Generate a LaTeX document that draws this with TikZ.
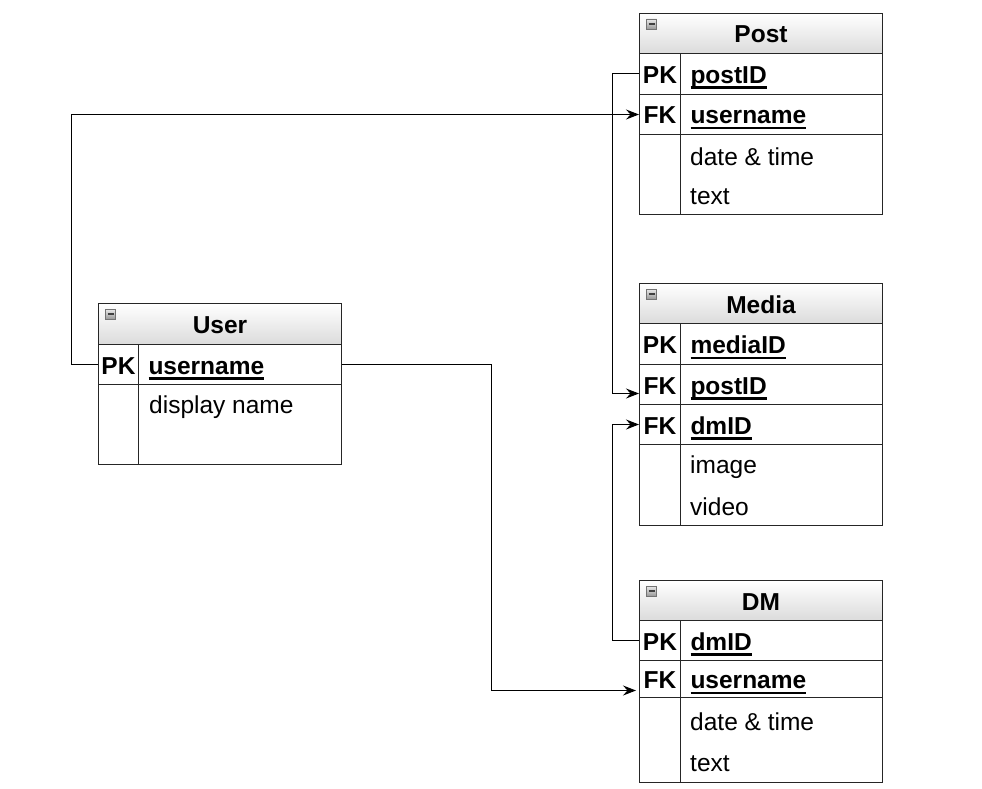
\documentclass[tikz,border=0pt]{standalone}
\usepackage{fontspec}
\setmainfont{Liberation Sans}
\usetikzlibrary{arrows.meta}

\newcommand{\ulfield}[1]{\setbox0\hbox{#1}\rlap{\rule[-5.5pt]{\wd0}{2.5pt}}\box0}

\tikzset{
  cell/.style={draw=black!85, line width=1pt, inner sep=0pt, anchor=north west,
    text height=22pt, text depth=3pt},
  tablehead/.style={cell, top color=white, bottom color=black!14, font=\bfseries,
    minimum width=243pt, minimum height=40pt},
  keycell/.style={cell, minimum width=41pt, minimum height=40pt, font=\bfseries},
  fieldcell/.style={cell, minimum width=202pt, minimum height=40pt,
    text width=182pt, align=left, font=\bfseries},
  bodycell/.style={cell, minimum width=202pt},
  entry/.style={anchor=west, inner sep=0pt, text height=22pt, text depth=3pt},
  foldbox/.style={draw=black!55, line width=0.8pt, top color=black!8, bottom color=black!40,
    minimum size=10pt, inner sep=0pt,
    path picture={\draw[black!75, line width=1.2pt]
      ([xshift=2pt]path picture bounding box.west) -- ([xshift=-2pt]path picture bounding box.east);}},
  fk/.style={draw=black, line width=1pt, -{Stealth[length=13pt,width=10pt,inset=4.5pt]}}
}

\begin{document}
\begin{tikzpicture}[x=1pt, y=-1pt]

  \fontsize{24.5}{28}\selectfont

  \useasboundingbox (0,0) rectangle (982,789);

  %% Post
  \node[tablehead] (post) at (639,13) {Post};
  \node[foldbox] (postFold) at (651.5,24) {};
  \node[keycell, minimum height=41pt] (postPKk) at (639,53) {PK};
  \node[fieldcell, minimum height=41pt] (postPKf) at (680,53) {\ulfield{postID}};
  \node[keycell] (postFKk) at (639,94) {FK};
  \node[fieldcell] (postFKf) at (680,94) {\ulfield{username}};
  \node[cell, minimum width=41pt, minimum height=80pt] (postBodyk) at (639,134) {};
  \node[bodycell, minimum height=80pt] (postBodyf) at (680,134) {};
  \node[entry] (postDate) at (690,155.5) {date \& time};
  \node[entry] (postText) at (690,194.5) {text};

  %% Media
  \node[tablehead] (media) at (639,283) {Media};
  \node[foldbox] (mediaFold) at (651.5,294) {};
  \node[keycell, minimum height=41pt] (mediaPKk) at (639,323) {PK};
  \node[fieldcell, minimum height=41pt] (mediaPKf) at (680,323) {\ulfield{mediaID}};
  \node[keycell] (mediaFKak) at (639,364) {FK};
  \node[fieldcell] (mediaFKaf) at (680,364) {\ulfield{postID}};
  \node[keycell] (mediaFKbk) at (639,404) {FK};
  \node[fieldcell] (mediaFKbf) at (680,404) {\ulfield{dmID}};
  \node[cell, minimum width=41pt, minimum height=81pt] (mediaBodyk) at (639,444) {};
  \node[bodycell, minimum height=81pt] (mediaBodyf) at (680,444) {};
  \node[entry] (mediaImage) at (690,464) {image};
  \node[entry] (mediaVideo) at (690,505.5) {video};

  %% DM
  \node[tablehead] (dm) at (639,580) {DM};
  \node[foldbox] (dmFold) at (651.5,591) {};
  \node[keycell] (dmPKk) at (639,620) {PK};
  \node[fieldcell] (dmPKf) at (680,620) {\ulfield{dmID}};
  \node[keycell, minimum height=37pt] (dmFKk) at (639,660) {FK};
  \node[fieldcell, minimum height=37pt] (dmFKf) at (680,660) {\ulfield{username}};
  \node[cell, minimum width=41pt, minimum height=85pt] (dmBodyk) at (639,697) {};
  \node[bodycell, minimum height=85pt] (dmBodyf) at (680,697) {};
  \node[entry] (dmDate) at (690,720.5) {date \& time};
  \node[entry] (dmText) at (690,762) {text};

  %% User
  \node[tablehead, minimum height=41pt] (user) at (98,303) {User};
  \node[foldbox] (userFold) at (110.5,314) {};
  \node[keycell, minimum width=40pt] (userPKk) at (98,344) {PK};
  \node[fieldcell, minimum width=203pt, text width=183pt] (userPKf) at (138,344) {\ulfield{username}};
  \node[cell, minimum width=40pt, minimum height=80pt] (userBodyk) at (98,384) {};
  \node[bodycell, minimum width=203pt, minimum height=80pt] (userBodyf) at (138,384) {};
  \node[entry] (userName) at (149,404) {display name};

  %% keys
  \draw[fk] (userPKk.west) -- ++(-27,0) |- (postFKk.west); %% User->Post
  \draw[fk] (postPKk.west) -- ++(-27,0) |- ([yshift=-9pt]mediaFKak.west); %% Post->Media
  \draw[fk] (dmPKk.west) -- ++(-27,0) |- (mediaFKbk.west); %% DM->Media
  \draw[fk] (userPKf.east) -- ++(149,0) |- ([shift={(-3pt,-11.5pt)}]dmFKk.west); %% User->DM
\end{tikzpicture}
\end{document}
